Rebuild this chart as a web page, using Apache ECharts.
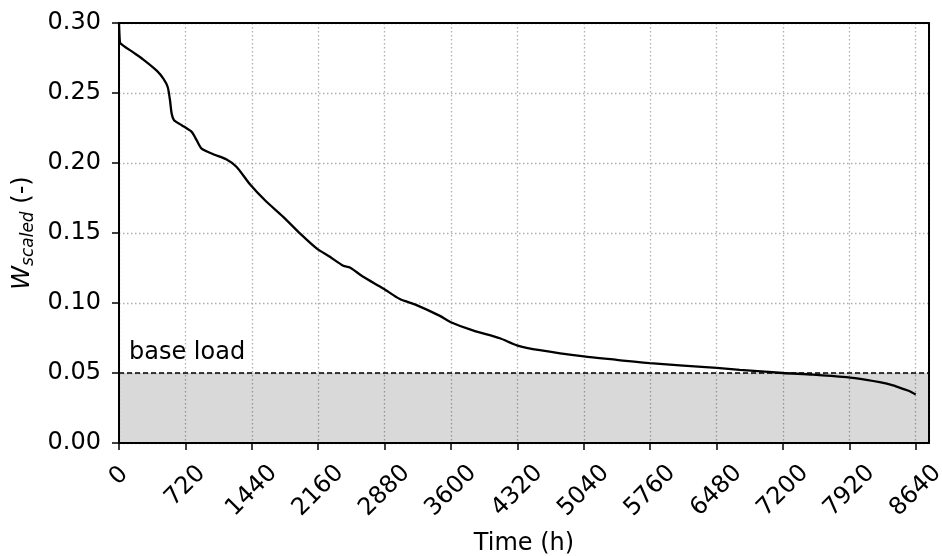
<!DOCTYPE html>
<html>
<head>
<meta charset="utf-8">
<script src="https://cdn.jsdelivr.net/npm/echarts@6/dist/echarts.min.js"></script>
<style>
html,body{margin:0;padding:0;background:#fff;}
#chart{width:942px;height:556px;}
</style>
</head>
<body>
<div id="chart"></div>
<script>
// Duration curve data
const timeH = [0, 8, 15, 155, 264, 409, 481, 528, 553, 571, 597, 680, 788, 842, 896, 1022, 1167, 1276, 1420, 1583, 1781, 1962, 2143, 2287, 2432, 2504, 2648, 2865, 3046, 3227, 3480, 3599, 3837, 4130, 4314, 4564, 5041, 5398, 5756, 6482, 6732, 7198, 7526, 7888, 8105, 8249, 8394, 8502, 8575, 8640];
const wScaled = [0.300, 0.288, 0.2855, 0.279, 0.2739, 0.266, 0.2603, 0.2543, 0.2448, 0.2353, 0.2305, 0.227, 0.2222, 0.2163, 0.2103, 0.2063, 0.2025, 0.1972, 0.1848, 0.1734, 0.1615, 0.1497, 0.139, 0.133, 0.1266, 0.1254, 0.1187, 0.1104, 0.1028, 0.0985, 0.0908, 0.0863, 0.0804, 0.0748, 0.0698, 0.0663, 0.0618, 0.0594, 0.0570, 0.0537, 0.0523, 0.0500, 0.0489, 0.0470, 0.0451, 0.0434, 0.0411, 0.0387, 0.0370, 0.0346];
const baseLoad = 0.05;
const xTicks = [0, 720, 1440, 2160, 2880, 3600, 4320, 5040, 5760, 6480, 7200, 7920, 8640];
const xMax = 8784;
const yTicks = [0.00, 0.05, 0.10, 0.15, 0.20, 0.25, 0.30];

const FONT = 'DejaVu Sans';
const FS = 24;
const chart = echarts.init(document.getElementById('chart'), null, {renderer: 'canvas'});
const gridLine = {show: true, lineStyle: {color: '#b0b0b0', width: 1.3, type: [1.5, 2.5]}};
const spine = {show: true, onZero: false, lineStyle: {color: '#000', width: 2}};

// rotated tick labels: centred under the tick, top of the rotated box aligned
const xRich = {
  l1: {fontFamily: FONT, fontSize: FS, color: '#000', padding: [0, 0, 0, 0]},
  l3: {fontFamily: FONT, fontSize: FS, color: '#000', padding: [14, 14, 0, 0]},
  l4: {fontFamily: FONT, fontSize: FS, color: '#000', padding: [21, 21, 0, 0]}
};

chart.setOption({
  animation: false,
  backgroundColor: '#fff',
  grid: {left: 119, right: 13, top: 23, bottom: 113, outerBoundsMode: 'none', containLabel: false, show: false},
  xAxis: [{
    type: 'value', min: xTicks[0], max: xMax, interval: 720,
    name: 'Time (h)', nameLocation: 'middle', nameGap: 89,
    nameTextStyle: {fontFamily: FONT, fontSize: FS, color: '#000'},
    axisLine: spine,
    axisTick: {show: true, length: 7, lineStyle: {color: '#000', width: 1.5}},
    axisLabel: {show: true, rotate: 45, margin: 33, align: 'center', verticalAlign: 'middle',
      fontFamily: FONT, fontSize: FS, color: '#000', showMaxLabel: false, hideOverlap: false, rich: xRich,
      formatter: v => {
        if (!xTicks.includes(v)) return '';
        const s = String(v);
        const k = s.length >= 4 ? 'l4' : (s.length === 3 ? 'l3' : 'l1');
        return '{' + k + '|' + s + '}';
      }},
    splitLine: gridLine
  }, {
    type: 'value', position: 'top', min: xTicks[0], max: xMax, interval: 720,
    axisLine: spine, axisTick: {show: false}, axisLabel: {show: false}, splitLine: {show: false}
  }],
  yAxis: [{
    type: 'value', min: yTicks[0], max: yTicks[yTicks.length - 1], interval: 0.05,
    name: '{w|W}{s|scaled}{n| (-)}', nameLocation: 'middle', nameGap: 80, nameRotate: 90,
    nameTextStyle: {fontFamily: FONT, fontSize: FS, color: '#000',
      rich: {
        w: {fontFamily: FONT, fontSize: 24, fontStyle: 'italic', color: '#000'},
        s: {fontFamily: FONT, fontSize: 17, fontStyle: 'italic', color: '#000', padding: [10, 0, 0, 0]},
        n: {fontFamily: FONT, fontSize: FS, color: '#000'}
      }},
    axisLine: spine,
    axisTick: {show: true, length: 7, lineStyle: {color: '#000', width: 1.5}},
    axisLabel: {show: true, margin: 18, fontFamily: FONT, fontSize: FS, color: '#000', formatter: v => v.toFixed(2)},
    splitLine: gridLine
  }, {
    type: 'value', position: 'right', min: yTicks[0], max: yTicks[yTicks.length - 1], interval: 0.05,
    axisLine: spine, axisTick: {show: false}, axisLabel: {show: false}, splitLine: {show: false}
  }],
  series: [{
    type: 'line',
    xAxisIndex: 0, yAxisIndex: 0,
    data: timeH.map((t, i) => [t, wScaled[i]]),
    showSymbol: false,
    smooth: 0.25,
    lineStyle: {color: '#000', width: 2.3},
    clip: true,
    z: 3,
    markArea: {
      silent: true,
      z: 4,
      itemStyle: {color: 'rgba(0,0,0,0.15)'},
      data: [[{yAxis: 0, xAxis: 0}, {yAxis: baseLoad, xAxis: xMax}]]
    },
    markLine: {
      silent: true, symbol: 'none', z: 5,
      lineStyle: {color: '#000', type: [5, 3], width: 1.5},
      label: {show: true, position: 'insideStartTop', formatter: 'base load', fontFamily: FONT, fontSize: FS, color: '#000', distance: [10, 8]},
      data: [{yAxis: baseLoad}]
    }
  }]
});
</script>
</body>
</html>
